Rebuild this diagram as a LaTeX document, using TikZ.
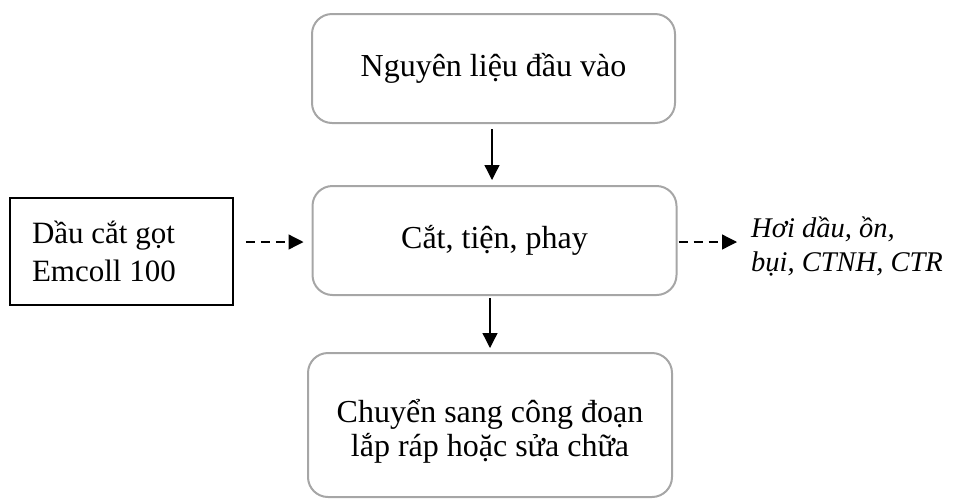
\documentclass[tikz,border=0pt]{standalone}
\usepackage{fontspec}
\setmainfont{Liberation Serif}
\usetikzlibrary{arrows.meta}
\definecolor{boxgray}{HTML}{A6A6A6}
\begin{document}
\begin{tikzpicture}[x=1pt,y=-1pt,
  stage/.style={draw=boxgray, line width=2pt, rounded corners=20pt,
    align=center, inner sep=0pt, font=\fontsize{32}{34}\selectfont},
  stagetext/.style={align=center, inner sep=0pt, font=\fontsize{32}{34}\selectfont},
  inbox/.style={draw=black, line width=1.8pt, align=flush left, inner sep=0pt,
    font=\fontsize{31}{38}\selectfont},
  outtext/.style={align=flush left, inner sep=0pt, font=\fontsize{28.5}{34}\selectfont\itshape},
  flow/.style={line width=1.3pt, -{Triangle[length=15pt,width=15pt]}},
  side/.style={line width=1.3pt, dash pattern=on 9pt off 6pt,
    -{Triangle[length=15pt,width=15pt]}}]
\useasboundingbox (0,0) rectangle (953,499);
% process stages
\node[stage, minimum width=363pt, minimum height=109pt] (raw) at (493.5,68.5) {Nguyên liệu đầu vào};
\node[stage, minimum width=364pt, minimum height=109pt] (cut) at (494.5,240.5) {Cắt, tiện, phay};
\node[stage, minimum width=364pt, minimum height=144pt] (next) at (490,425) {};
\node[stagetext] (nexttext) at (490,431) {Chuyển sang công đoạn\\lắp ráp hoặc sửa chữa};
% input and output
\node[inbox, minimum width=223pt, minimum height=107pt, text width=179pt] (oil) at (121.5,251.5) {Dầu cắt gọt\\Emcoll 100};
\node[outtext, anchor=west] (waste) at (751,247) {Hơi dầu, ồn,\\bụi, CTNH, CTR};
% connectors
\draw[flow, shorten <=5pt, shorten >=5pt] (raw.south -| 492,0) -- (cut.north -| 492,0);
\draw[flow, shorten <=2pt, shorten >=4pt] (cut.south -| 490,0) -- (next.north -| 490,0);
\draw[side, shorten <=12pt, shorten >=8pt] (oil.east |- 0,242) -- (cut.west |- 0,242);
\draw[side, shorten <=1pt, shorten >=14pt] (cut.east |- 0,242) -- (waste.west |- 0,242);
\end{tikzpicture}
\end{document}
